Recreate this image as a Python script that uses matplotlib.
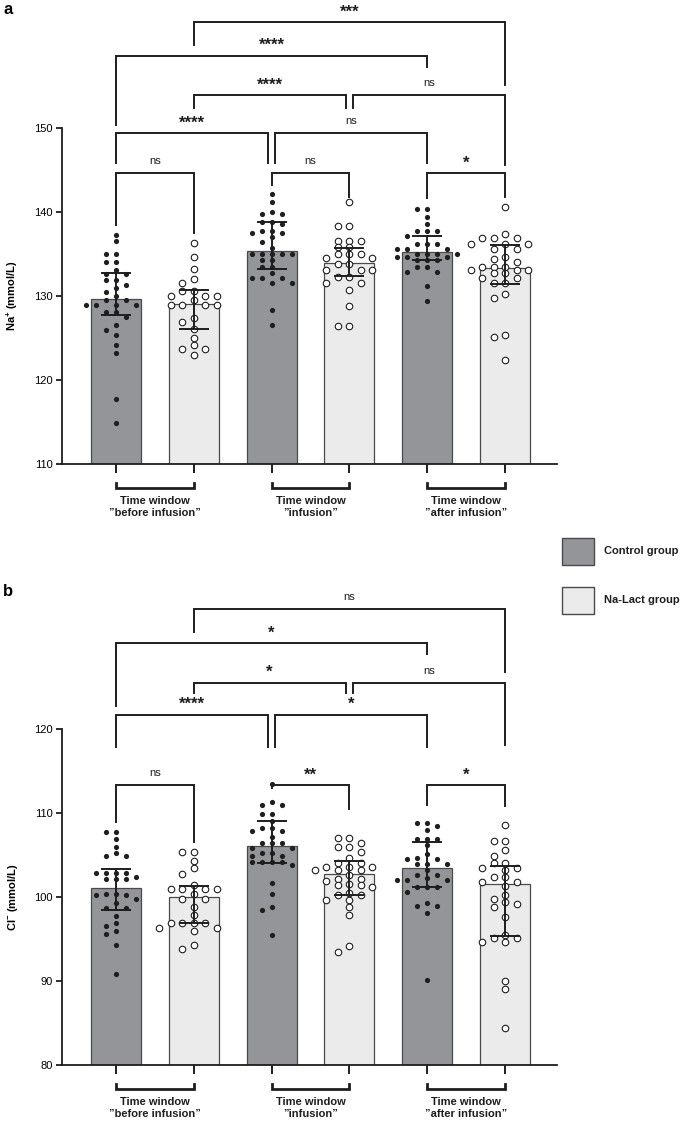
import numpy as np
import matplotlib
matplotlib.use('Agg')
import matplotlib.pyplot as plt
import matplotlib.transforms as mtransforms
from matplotlib.patches import Rectangle

plt.rcParams['font.family'] = ['Liberation Sans', 'DejaVu Sans']
plt.rcParams['mathtext.default'] = 'regular'

windows = ['Time window\n\u201dbefore infusion\u201d',
           'Time window\n\u201dinfusion\u201d',
           'Time window\n\u201dafter infusion\u201d']
groups = ['Control group', 'Na-Lact group']

# --- panel a: sodium (mmol/L), order: ctrl/lact before, ctrl/lact infusion, ctrl/lact after
na_ctrl_before = [137.3, 136.6, 135.0, 135.0, 134.1, 134.1, 133.1, 132.6, 132.6, 131.9, 131.9,
                  131.3, 131.0, 130.5, 130.0, 129.5, 129.5, 128.9, 128.9, 128.9, 128.9, 128.1,
                  128.1, 127.5, 126.5, 126.0, 125.4, 124.2, 123.2, 117.7, 114.9]
na_lact_before = [136.3, 134.7, 133.2, 132.0, 131.5, 130.6, 130.6, 130.0, 130.0, 130.0, 129.5,
                  128.9, 128.9, 128.9, 128.9, 127.4, 126.9, 126.1, 125.0, 124.2, 123.7, 123.7,
                  123.0]
na_ctrl_inf = [142.1, 141.2, 140.0, 139.8, 139.8, 138.8, 138.8, 138.6, 137.7, 137.7, 137.5,
               137.5, 137.0, 136.4, 135.7, 135.0, 135.0, 135.0, 135.0, 135.0, 134.3, 134.3,
               133.4, 133.4, 132.7, 132.1, 132.1, 132.1, 131.6, 131.6, 128.3, 126.5]
na_lact_inf = [141.2, 138.3, 138.3, 136.6, 136.6, 136.6, 135.8, 135.8, 135.0, 135.0, 135.0,
               134.5, 134.5, 133.8, 133.8, 133.1, 133.1, 133.1, 132.3, 132.3, 131.6, 131.6,
               130.7, 128.8, 126.4, 126.4]
na_ctrl_after = [140.4, 140.4, 139.4, 138.6, 137.7, 137.7, 137.7, 137.1, 136.2, 136.2, 136.2,
                 135.6, 135.6, 135.6, 135.0, 135.0, 135.0, 135.0, 134.6, 134.6, 134.6, 134.3,
                 134.3, 134.3, 133.5, 133.5, 132.9, 132.9, 131.2, 129.4]
na_lact_after = [140.6, 137.4, 136.9, 136.9, 136.9, 136.2, 136.2, 136.2, 135.6, 135.6, 134.6,
                 134.4, 134.0, 133.5, 133.5, 133.5, 133.1, 133.1, 133.1, 132.7, 132.7, 132.2,
                 132.2, 131.5, 131.5, 130.2, 129.8, 125.4, 125.1, 122.4]
na_bar = [129.6, 129.0, 135.3, 133.9, 135.2, 133.3]
na_err_lo = [127.7, 126.1, 133.2, 132.4, 134.3, 131.4]
na_err_hi = [132.7, 130.7, 138.8, 135.7, 137.2, 136.1]

# --- panel b: chloride (mmol/L)
cl_ctrl_before = [107.7, 107.7, 106.9, 105.9, 105.2, 104.9, 104.9, 102.9, 102.9, 102.9, 102.9,
                  102.4, 102.1, 102.1, 102.1, 100.4, 100.4, 100.2, 100.2, 99.8, 99.3, 98.7,
                  98.7, 97.7, 96.9, 96.5, 96.0, 95.6, 94.3, 90.8]
cl_lact_before = [105.4, 105.4, 104.3, 103.4, 102.7, 101.4, 100.9, 100.9, 100.9, 100.9, 100.4,
                  99.8, 99.8, 98.8, 97.9, 96.9, 96.9, 96.9, 96.9, 96.3, 96.3, 95.9, 94.3, 93.8]
cl_ctrl_inf = [113.5, 111.3, 111.0, 111.0, 109.9, 109.9, 109.1, 108.2, 108.2, 107.8, 107.8,
               107.2, 106.4, 106.4, 106.4, 105.8, 105.8, 105.2, 105.2, 104.9, 104.9, 104.2,
               104.2, 104.2, 104.2, 103.8, 101.7, 100.4, 98.8, 98.5, 95.5]
cl_lact_inf = [107.0, 107.0, 106.4, 105.9, 105.9, 105.4, 104.6, 104.1, 104.1, 103.6, 103.6,
               103.6, 103.2, 103.2, 103.2, 102.6, 102.2, 102.2, 101.9, 101.5, 101.4, 101.4,
               101.2, 100.5, 100.2, 100.2, 99.7, 99.7, 98.8, 97.9, 94.2, 93.5]
cl_ctrl_after = [108.8, 108.8, 108.5, 108.0, 106.9, 106.9, 106.9, 106.2, 105.1, 104.6, 104.5,
                 104.5, 103.9, 103.9, 103.9, 103.2, 102.6, 102.6, 102.3, 102.0, 102.0, 102.0,
                 101.2, 101.2, 101.2, 100.6, 99.3, 98.9, 98.9, 98.1, 90.1]
cl_lact_after = [108.6, 106.7, 106.7, 105.6, 104.9, 104.0, 104.0, 103.5, 103.5, 103.2, 102.4,
                 102.4, 101.8, 101.8, 101.3, 100.2, 99.8, 99.4, 99.2, 98.8, 97.6, 95.5, 95.1,
                 95.1, 94.7, 94.7, 90.0, 89.0, 84.4]
cl_bar = [101.1, 100.0, 106.1, 102.7, 103.4, 101.5]
cl_err_lo = [98.4, 96.9, 104.0, 100.2, 101.2, 95.3]
cl_err_hi = [103.3, 101.3, 109.0, 104.3, 106.5, 103.7]

# significance brackets: (left bar, right bar, level, left leg end, right leg end, label)
na_sig = [(1, 5, 162.6, 159.9, 155.1, '***'),
          (0, 4, 158.6, 150.4, 157.3, '****'),
          (1, 2.95, 153.9, 152.4, 152.4, '****'),
          (3.05, 5, 153.9, 152.4, 145.6, 'ns'),
          (0, 1.95, 149.4, 145.8, 145.8, '****'),
          (2.05, 4, 149.4, 145.8, 145.8, 'ns'),
          (0, 1, 144.6, 138.5, 137.5, 'ns'),
          (2, 3, 144.6, 143.2, 141.8, 'ns'),
          (4, 5, 144.6, 141.7, 141.8, '*')]
cl_sig = [(1, 5, 134.3, 131.6, 126.8, 'ns'),
          (0, 4, 130.2, 122.7, 128.9, '*'),
          (1, 2.95, 125.5, 124.3, 124.3, '*'),
          (3.05, 5, 125.5, 124.3, 118.1, 'ns'),
          (0, 1.95, 121.7, 117.8, 117.8, '****'),
          (2.05, 4, 121.7, 117.8, 117.8, '*'),
          (0, 1, 113.3, 108.9, 106.5, 'ns'),
          (2, 3, 113.3, 113.0, 110.5, '**'),
          (4, 5, 113.3, 111.0, 110.8, '*')]

pos = np.arange(6)
ctrl_col = '#939598'
lact_col = '#ebebeb'
ink = '#1e1e1e'


def swarm_x(ax, x0, vals, diam, step):
    # place points in columns so that none overlap too much (simple beeswarm, in pixels)
    pts = ax.transData.transform(np.column_stack([np.full(len(vals), x0), vals]))
    xc = pts[0, 0]
    placed = []
    xs = []
    for y in pts[:, 1]:
        k = 0
        done = False
        while not done:
            offs = [0] if k == 0 else [-k * step, k * step]
            for off in offs:
                if all(not (c == off and abs(py - y) < diam) for c, py in placed):
                    placed.append((off, y))
                    xs.append(xc + off)
                    done = True
                    break
            k += 1
    inv = ax.transData.inverted()
    return inv.transform(np.column_stack([xs, pts[:, 1]]))[:, 0]


def panel(ax, ylo, series, bars, lo, hi, sig, ylabel):
    ax.set_xlim(-0.694, 5.668)
    ax.set_ylim(ylo, ylo + 40)
    cols = [ctrl_col, lact_col] * 3
    ax.bar(pos, [b - ylo for b in bars], bottom=ylo, width=0.643, color=cols,
           edgecolor='#4a4a4a', linewidth=0.9, zorder=1)
    for i, vals in enumerate(series):
        if i % 2 == 0:
            xs = swarm_x(ax, pos[i], vals, 5.4, 10.0)
            ax.scatter(xs, vals, s=14, color=ink, linewidths=0, zorder=2)
        else:
            xs = swarm_x(ax, pos[i], vals, 6.6, 11.5)
            ax.scatter(xs, vals, s=22, facecolor='white', edgecolor=ink,
                       linewidths=0.8, zorder=2)
    bars = np.array(bars)
    ax.errorbar(pos, bars, yerr=[bars - np.array(lo), np.array(hi) - bars], fmt='none',
                ecolor=ink, elinewidth=1.4, capsize=10.5, capthick=1.4, zorder=3)

    for x1, x2, lev, e1, e2, lab in sig:
        ax.plot([x1, x1, x2, x2], [e1, lev, lev, e2], color=ink, lw=1.4,
                clip_on=False, solid_joinstyle='miter', zorder=4)
        if lab == 'ns':
            ax.text((x1 + x2) / 2, lev + 1.45, lab, ha='center', va='center',
                    fontsize=8, color=ink)
        else:
            ax.text((x1 + x2) / 2, lev + 1.2, lab, ha='center', va='center',
                    fontsize=12, fontweight='bold', color=ink)

    for s in ['top', 'right']:
        ax.spines[s].set_visible(False)
    for s in ['left', 'bottom']:
        ax.spines[s].set_linewidth(1.3)
        ax.spines[s].set_color(ink)
    ax.set_yticks(np.arange(ylo, ylo + 41, 10))
    ax.tick_params(axis='y', length=4.5, width=1.3, labelsize=8, color=ink, pad=2)
    ax.set_xticks(pos)
    ax.set_xticklabels([])
    ax.tick_params(axis='x', length=6.5, width=1.4, color=ink)
    ax.set_ylabel(ylabel, fontsize=8, fontweight='bold')

    tr = mtransforms.blended_transform_factory(ax.transData, ax.transAxes)
    for g in range(3):
        a, b = pos[2 * g], pos[2 * g + 1]
        ax.plot([a, a, b, b], [-0.056, -0.0714, -0.0714, -0.056], color=ink, lw=2.0,
                transform=tr, clip_on=False, solid_joinstyle='miter')
        ax.text((a + b) / 2, -0.095, windows[g], transform=tr, ha='center', va='top',
                fontsize=8, fontweight='bold', linespacing=1.25, color=ink)


fig = plt.figure(figsize=(6.85, 11.27), dpi=100)
H = 1127.0
W = 685.0
ax_a = fig.add_axes([62 / W, (H - 464) / H, (557 - 62) / W, 336 / H])
ax_b = fig.add_axes([62 / W, (H - 1065) / H, (557 - 62) / W, 336 / H])

panel(ax_a, 110, [na_ctrl_before, na_lact_before, na_ctrl_inf, na_lact_inf, na_ctrl_after,
                  na_lact_after], na_bar, na_err_lo, na_err_hi, na_sig,
      'Na$^{+}$ (mmol/L)')
panel(ax_b, 80, [cl_ctrl_before, cl_lact_before, cl_ctrl_inf, cl_lact_inf, cl_ctrl_after,
                 cl_lact_after], cl_bar, cl_err_lo, cl_err_hi, cl_sig,
      'Cl$^{-}$ (mmol/L)')
ax_a.yaxis.set_label_coords(-0.085, 0.5)
ax_b.yaxis.set_label_coords(-0.085, 0.5)

fig.text(3 / W, 1 - 10 / H, 'a', fontsize=12, fontweight='bold', va='center')
fig.text(3 / W, 1 - 592 / H, 'b', fontsize=12, fontweight='bold', va='center')

# legend
for k, (lab, col) in enumerate(zip(groups, [ctrl_col, lact_col])):
    yc = 551 + k * 49
    fig.patches.append(Rectangle((562 / W, 1 - (yc + 13.5) / H), 32 / W, 27 / H,
                                 transform=fig.transFigure, facecolor=col,
                                 edgecolor='#4a4a4a', lw=1.0))
    fig.text(604 / W, 1 - yc / H, lab, fontsize=8, fontweight='bold', va='center',
             color=ink)

fig.savefig('out.png', dpi=100, facecolor='white')
